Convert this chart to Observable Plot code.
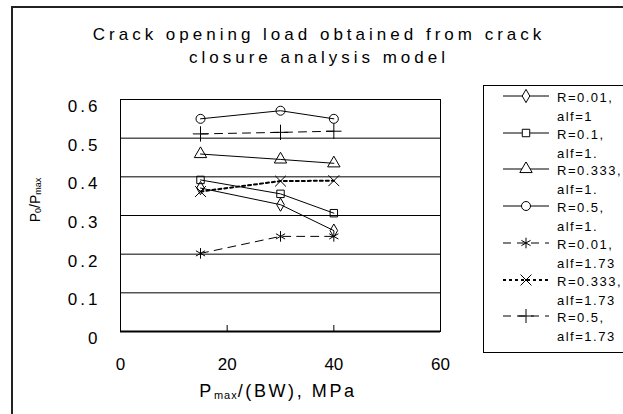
<!DOCTYPE html>
<html><head><meta charset="utf-8">
<script src="https://cdn.jsdelivr.net/npm/d3@7"></script>
<script src="https://cdn.jsdelivr.net/npm/@observablehq/plot@0.6"></script>
<style>
body{margin:0;background:#fff;font-family:"Liberation Sans",Arial,sans-serif;color:#000;}
#wrap{position:relative;width:623px;height:414px;overflow:hidden;background:#fff;}
#wrap > svg{position:absolute;left:0;top:0;}
.outer{position:absolute;left:11px;top:6px;width:700px;height:500px;border-left:2px solid #222;border-top:2px solid #222;}
.title{position:absolute;left:0;width:638px;text-align:center;font-size:17px;letter-spacing:4px;white-space:nowrap;}
.xtitle{position:absolute;left:128px;width:300px;text-align:center;top:381px;font-size:18px;letter-spacing:2.6px;white-space:nowrap;}
.xtitle sub{font-size:11px;vertical-align:-2px;letter-spacing:1px;}
.ytitle sub{font-size:9px;vertical-align:-1px;}
.ytitle{position:absolute;left:35px;top:200px;transform:translate(-50%,-50%) rotate(-90deg);font-size:14px;white-space:nowrap;}
.legend{position:absolute;left:483px;top:85px;width:160px;height:266px;border:1px solid #000;}
.legend .entry{position:absolute;left:0;}
.legend .entry svg{position:absolute;left:19px;top:0;}
.legend .entry .t{position:absolute;left:73px;top:-1px;font-size:13px;letter-spacing:1.5px;line-height:19px;white-space:nowrap;}
</style></head><body><div id="wrap"></div>
<script>
const xValues = [15, 30, 40];
const seriesLine1 = ["R=0.01,", "R=0.1,", "R=0.333,", "R=0.5,", "R=0.01,", "R=0.333,", "R=0.5,"];
const seriesLine2 = ["alf=1", "alf=1.", "alf=1.", "alf=1.", "alf=1.73", "alf=1.73", "alf=1.73"];
const yR001alf1 = [0.371, 0.328, 0.261];
const yR01alf1 = [0.392, 0.356, 0.306];
const yR0333alf1 = [0.459, 0.445, 0.435];
const yR05alf1 = [0.550, 0.571, 0.550];
const yR001alf173 = [0.202, 0.246, 0.246];
const yR0333alf173 = [0.362, 0.389, 0.390];
const yR05alf173 = [0.511, 0.515, 0.518];
const xTicks = [0, 20, 40, 60];
const yTicks = [0, 0.1, 0.2, 0.3, 0.4, 0.5, 0.6];

const seriesValues = [yR001alf1, yR01alf1, yR0333alf1, yR05alf1, yR001alf173, yR0333alf173, yR05alf173];
const styles = [
  {symbol: "diamond", r: 4, dash: null, sw: 1},
  {symbol: "square", r: 4.2, dash: null, sw: 1},
  {symbol: "triangle", r: 4.6, dash: null, sw: 1},
  {symbol: "circle", r: 4.5, dash: null, sw: 1},
  {symbol: "asterisk", r: 5, dash: "8,6", sw: 1},
  {symbol: "times", r: 5, dash: "3,3", sw: 2},
  {symbol: "plus", r: 5, dash: "8,6", sw: 1}
];
const rows = seriesValues.map((vals, i) => vals.map((v, j) => ({x: xValues[j], y: v, s: i})));

const plotH = 414 - 99 - 83;
const tickLen = (yTicks[yTicks.length - 1] - yTicks[0]) * 6 / plotH;

const marks = [
  Plot.gridY(yTicks.slice(1, 6), {stroke: "#000", strokeOpacity: 1, strokeWidth: 1}),
  Plot.frame({stroke: "#000", strokeWidth: 1}),
  Plot.ruleX(xTicks.slice(1, 3), {y1: 0, y2: tickLen, stroke: "#000"}),
  Plot.ruleY([0], {stroke: "#000", strokeWidth: 2}),
  Plot.axisX({ticks: xTicks, tickSize: 0, tickPadding: 26, label: null, fontSize: 17}),
  Plot.axisY({ticks: yTicks, tickSize: 0, tickPadding: 20, dy: 7, label: null, fontSize: 17,
    tickFormat: d => d === 0 ? "0" : d.toFixed(1)})
];
rows.forEach((r, i) => {
  const st = styles[i];
  marks.push(Plot.line(r, {x: "x", y: "y", stroke: "#000", strokeWidth: st.sw, strokeDasharray: st.dash}));
  marks.push(Plot.dot(r, {x: "x", y: "y", symbol: st.symbol, r: st.r, stroke: "#000", fill: "none", strokeWidth: 1}));
});

const chart = Plot.plot({
  width: 623, height: 414,
  marginTop: 99, marginBottom: 83, marginLeft: 120, marginRight: 183,
  x: {domain: [0, 60]},
  y: {domain: [0, 0.6]},
  style: {fontFamily: "'Liberation Sans', Arial, sans-serif", fontSize: "17px", color: "#000", background: "transparent"},
  marks
});
const wrap = document.getElementById("wrap");
wrap.appendChild(chart);
chart.querySelectorAll('[aria-label="y-axis tick label"] text').forEach(t => t.setAttribute("letter-spacing", "3"));

function addDiv(cls, html, css) {
  const d = document.createElement("div");
  d.className = cls; d.innerHTML = html;
  if (css) Object.assign(d.style, css);
  wrap.appendChild(d);
  return d;
}
addDiv("outer", "");
addDiv("title", "Crack opening load obtained from crack", {top: "25px"});
addDiv("title", "closure analysis model", {top: "48px"});
addDiv("xtitle", "P<sub>max</sub>/(BW), MPa");
addDiv("ytitle", "P<sub>0</sub>/P<sub>max</sub>");

const legend = addDiv("legend", "");
const symMap = {diamond: d3.symbolDiamond, square: d3.symbolSquare, triangle: d3.symbolTriangle, circle: d3.symbolCircle, asterisk: d3.symbolAsterisk, times: d3.symbolTimes, plus: d3.symbolPlus};
styles.forEach((st, i) => {
  const e = document.createElement("div");
  e.className = "entry";
  e.style.top = (3 + i * 36.7) + "px";
  const svg = d3.create("svg").attr("width", 48).attr("height", 14);
  svg.append("line").attr("x1", 0).attr("x2", 46).attr("y1", 7).attr("y2", 7)
    .attr("stroke", "#000").attr("stroke-width", st.sw).attr("stroke-dasharray", st.dash);
  svg.append("path").attr("transform", "translate(23,7)")
    .attr("d", d3.symbol(symMap[st.symbol], Math.PI * st.r * st.r)())
    .attr("fill", "#fff").attr("stroke", "#000");
  e.appendChild(svg.node());
  const t = document.createElement("div");
  t.className = "t";
  t.innerHTML = seriesLine1[i] + "<br>" + seriesLine2[i];
  e.appendChild(t);
  legend.appendChild(e);
});
</script>
</body></html>
